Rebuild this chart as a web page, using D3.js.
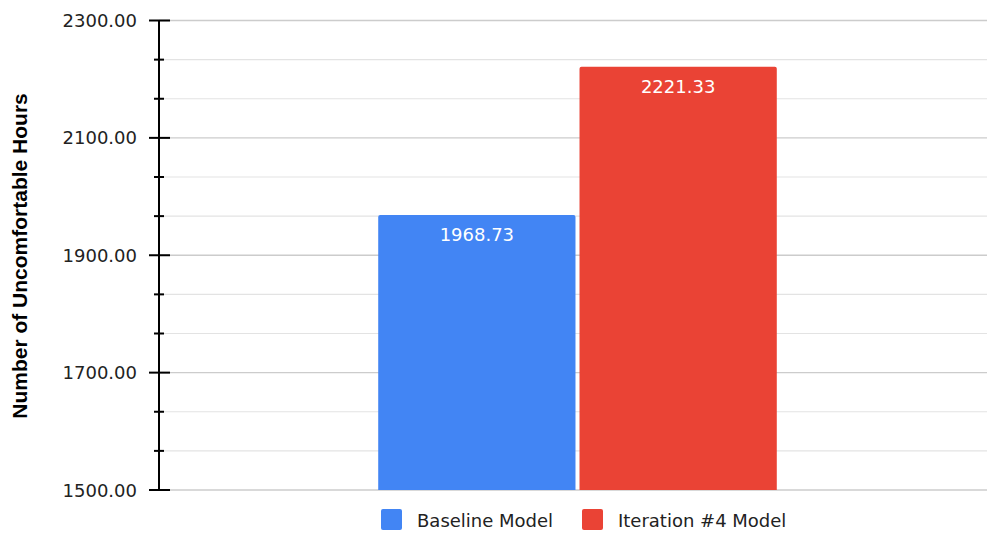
<!DOCTYPE html>
<html>
<head>
<meta charset="utf-8">
<script src="https://cdn.jsdelivr.net/npm/d3@7"></script>
<style>
  html, body { margin: 0; padding: 0; background: #fff; }
  svg { display: block; }
</style>
</head>
<body>
<svg id="chart" width="987" height="533"></svg>
<script>
// Series shown as side-by-side bars in a single group
const seriesNames = ["Baseline Model", "Iteration #4 Model"];
const seriesValues = [1968.73, 2221.33];
const seriesColors = ["#4285f4", "#ea4335"];
const categories = [""];
const yDomain = [1500, 2300];
const majorTicks = [1500, 1700, 1900, 2100, 2300];
const minorPerMajor = 2;
const yTitle = "Number of Uncomfortable Hours";

const svg = d3.select("#chart");
const W = 987, H = 533;
const m = { left: 159, right: -9, top: 20.5, bottom: 43 };
const plotW = W - m.left - m.right;
const plotH = H - m.top - m.bottom;
const font = "'DejaVu Sans', Verdana, sans-serif";

// Minor steps split each labelled interval into equal parts
const minorTicks = [];
for (let i = 0; i < majorTicks.length - 1; i++) {
  const a = majorTicks[i], b = majorTicks[i + 1];
  for (let k = 1; k <= minorPerMajor; k++) minorTicks.push(a + (b - a) * k / (minorPerMajor + 1));
}

const y = d3.scaleLinear().domain(yDomain).range([plotH, 0]);
const x0 = d3.scaleBand().domain(categories).range([0, plotW]).paddingInner(0).paddingOuter(0.55);
const x1 = d3.scaleBand().domain(seriesNames).range([0, x0.bandwidth()]).paddingInner(0.02);

const g = svg.append("g").attr("transform", `translate(${m.left},${m.top})`);

// Gridlines: light ones for minor steps, slightly darker for labelled steps
g.append("g").selectAll("line").data(minorTicks).join("line")
  .attr("x1", 0).attr("x2", plotW)
  .attr("y1", d => y(d)).attr("y2", d => y(d))
  .attr("stroke", "#e3e3e3").attr("stroke-width", 1.2);
g.append("g").selectAll("line").data(majorTicks).join("line")
  .attr("x1", 0).attr("x2", plotW)
  .attr("y1", d => y(d)).attr("y2", d => y(d))
  .attr("stroke", "#cccccc").attr("stroke-width", 1.4);

// Bars with lightly rounded tops
const barG = g.append("g");
categories.forEach(c => {
  seriesNames.forEach((s, i) => {
    const bx = x0(c) + x1(s), bw = x1.bandwidth();
    const top = y(seriesValues[i]), bottom = y(yDomain[0]);
    const r = 2;
    const p = d3.path();
    p.moveTo(bx, bottom);
    p.lineTo(bx, top + r);
    p.quadraticCurveTo(bx, top, bx + r, top);
    p.lineTo(bx + bw - r, top);
    p.quadraticCurveTo(bx + bw, top, bx + bw, top + r);
    p.lineTo(bx + bw, bottom);
    p.closePath();
    barG.append("path").attr("d", p.toString()).attr("fill", seriesColors[i]);
    barG.append("text")
      .attr("x", bx + bw / 2).attr("y", top + 26)
      .attr("text-anchor", "middle")
      .attr("font-family", font).attr("font-size", 18)
      .attr("fill", "#fff")
      .text(d3.format(".2f")(seriesValues[i]));
  });
});

// Y axis: long ticks with labels, short ticks between them
const axisG = g.append("g");
axisG.append("line").attr("x1", 0).attr("x2", 0)
  .attr("y1", y(yDomain[1])).attr("y2", y(yDomain[0]))
  .attr("stroke", "#000").attr("stroke-width", 2);
axisG.selectAll("line.maj").data(majorTicks).join("line").attr("class", "maj")
  .attr("x1", -10).attr("x2", 11)
  .attr("y1", d => y(d)).attr("y2", d => y(d))
  .attr("stroke", "#000").attr("stroke-width", 2);
axisG.selectAll("line.min").data(minorTicks).join("line").attr("class", "min")
  .attr("x1", -5).attr("x2", 5)
  .attr("y1", d => y(d)).attr("y2", d => y(d))
  .attr("stroke", "#000").attr("stroke-width", 2);
axisG.selectAll("text").data(majorTicks).join("text")
  .attr("x", -22).attr("y", d => y(d) + 6.5)
  .attr("text-anchor", "end")
  .attr("font-family", font).attr("font-size", 18)
  .attr("fill", "#222")
  .text(d => d3.format(".2f")(d));

// Axis title
svg.append("text")
  .attr("transform", `translate(26.5,256) rotate(-90)`)
  .attr("text-anchor", "middle")
  .attr("font-family", "'Liberation Sans', Arial, sans-serif")
  .attr("font-weight", "bold").attr("font-size", 21)
  .attr("fill", "#000")
  .text(yTitle);

// Legend
const legend = svg.append("g");
const legendX = [381, 582];
seriesNames.forEach((s, i) => {
  const lg = legend.append("g").attr("transform", `translate(${legendX[i]},509)`);
  lg.append("rect").attr("width", 21).attr("height", 21).attr("rx", 2)
    .attr("fill", seriesColors[i]);
  lg.append("text").attr("x", 36).attr("y", 17.5)
    .attr("font-family", font).attr("font-size", 18)
    .attr("fill", "#222").text(s);
});
</script>
</body>
</html>
